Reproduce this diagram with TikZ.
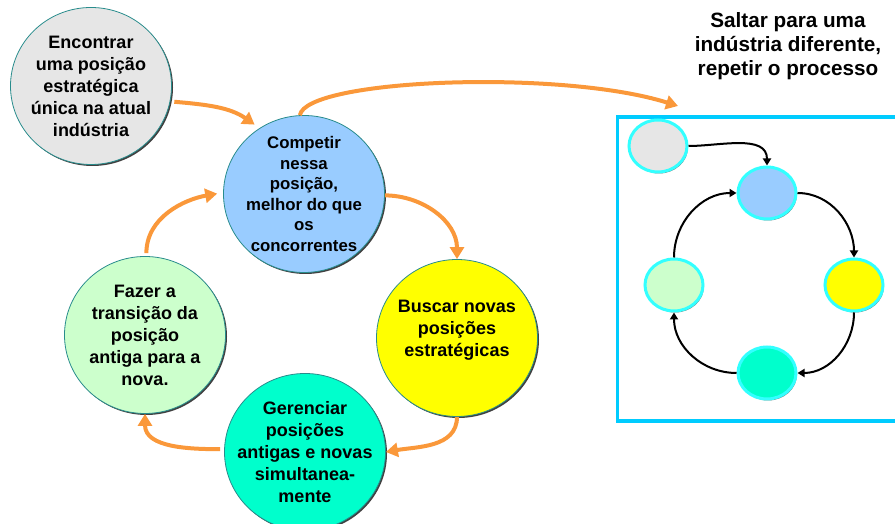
\documentclass[tikz,border=0pt]{standalone}
\usepackage{fontspec}
\setmainfont{Liberation Sans}
\usetikzlibrary{shapes.geometric,arrows.meta,shadows}

\definecolor{laranja}{RGB}{250,152,58}
\definecolor{cinza}{RGB}{230,230,230}
\definecolor{azul}{RGB}{153,204,255}
\definecolor{amarelo}{RGB}{255,255,0}
\definecolor{verdeagua}{RGB}{0,255,204}
\definecolor{verdeclaro}{RGB}{204,255,204}
\definecolor{cianoborda}{RGB}{0,204,255}
\definecolor{cianoaro}{RGB}{51,255,255}
\definecolor{bordaetapa}{RGB}{40,140,140}

\tikzset{
	etapa/.style={ellipse, minimum width=161pt, minimum height=157pt, inner sep=0pt,
		draw=bordaetapa, line width=0.8pt,
		general shadow={fill=black!75, shadow xshift=1.5pt, shadow yshift=-1.5pt}},
	ovo/.style={ellipse, minimum width=58pt, minimum height=52pt, inner sep=0pt,
		draw=cianoaro, line width=3pt,
		general shadow={fill=black!55, shadow xshift=1pt, shadow yshift=-1.5pt}},
	texto/.style={align=center, font=\bfseries\fontsize{18}{22}\selectfont},
	titulo/.style={align=center, font=\bfseries\fontsize{20.7}{24}\selectfont},
	quadro/.style={draw=cianoborda, line width=3.5pt},
	seta/.style={draw=laranja, line width=4pt, -{Triangle[length=12pt,width=14pt]}},
	setinha/.style={draw=black, line width=2pt, -{Triangle[length=7pt,width=8pt]}},
}

\begin{document}
\begin{tikzpicture}[x=1pt,y=1pt]
	\useasboundingbox (0,0) rectangle (895,524);
	\clip (0,0) rectangle (895,524);

	% ciclo principal
	\node[etapa, fill=cinza] (enc) at (91,438) {};
	\node[etapa, fill=azul] (comp) at (304,330) {};
	\node[etapa, fill=amarelo] (busc) at (457,186) {};
	\node[etapa, fill=verdeagua] (ger) at (305,72) {};
	\node[etapa, fill=verdeclaro] (faz) at (145,189) {};

	\node[texto] (enc texto) at (enc) {Encontrar\\uma posição\\estratégica\\única na atual\\indústria};
	\node[texto, font=\bfseries\fontsize{16.8}{20.5}\selectfont] (comp texto) at (comp) {Competir\\nessa\\posição,\\melhor do que\\os\\concorrentes};
	\node[texto] (busc texto) at (457,194) {Buscar novas\\posições\\estratégicas};
	\node[texto] (ger texto) at (ger) {Gerenciar\\posições\\antigas e novas\\simultanea-\\mente};
	\node[texto] (faz texto) at (faz) {Fazer a\\transição da\\posição\\antiga para a\\nova.};

	\draw[seta, shorten <=4pt, shorten >=6pt] (enc.-11) to[out=-5, in=145] (comp.124);
	\draw[seta] (comp.-1) to[out=0, in=90] (busc.north);
	\draw[seta] (busc.south) to[out=-90, in=10] (ger.0);
	\draw[seta, shorten <=4pt] (ger.178) to[out=180, in=-90] (faz.south);
	\draw[seta, shorten <=3pt, shorten >=6pt] (faz.89) to[out=90, in=190] (comp.179);

	% salto para outra industria
	\coordinate (salto) at (678,418);
	\draw[seta] (comp.93) .. controls (306,445) and (560,455) .. (salto);
	\node[titulo] (salto texto) at (788,478) {Saltar para uma\\indústria diferente,\\repetir o processo};

	% ciclo repetido
	\draw[quadro] (617.5,103) rectangle (910,407);
	\node[ovo, fill=cinza] (cz) at (658,378) {};
	\node[ovo, fill=azul] (az) at (767,331) {};
	\node[ovo, fill=amarelo] (am) at (854,239) {};
	\node[ovo, fill=verdeagua] (va) at (767,151) {};
	\node[ovo, fill=verdeclaro] (vc) at (674,239) {};

	\draw[setinha] (cz.0) to[out=0, in=90] (az.90);
	\draw[setinha] (az.0) to[out=0, in=90] (am.90);
	\draw[setinha] (am.-90) to[out=-90, in=0] (va.0);
	\draw[setinha] (va.180) to[out=180, in=-90] (vc.-90);
	\draw[setinha] (vc.90) to[out=90, in=180] (az.180);
\end{tikzpicture}
\end{document}
